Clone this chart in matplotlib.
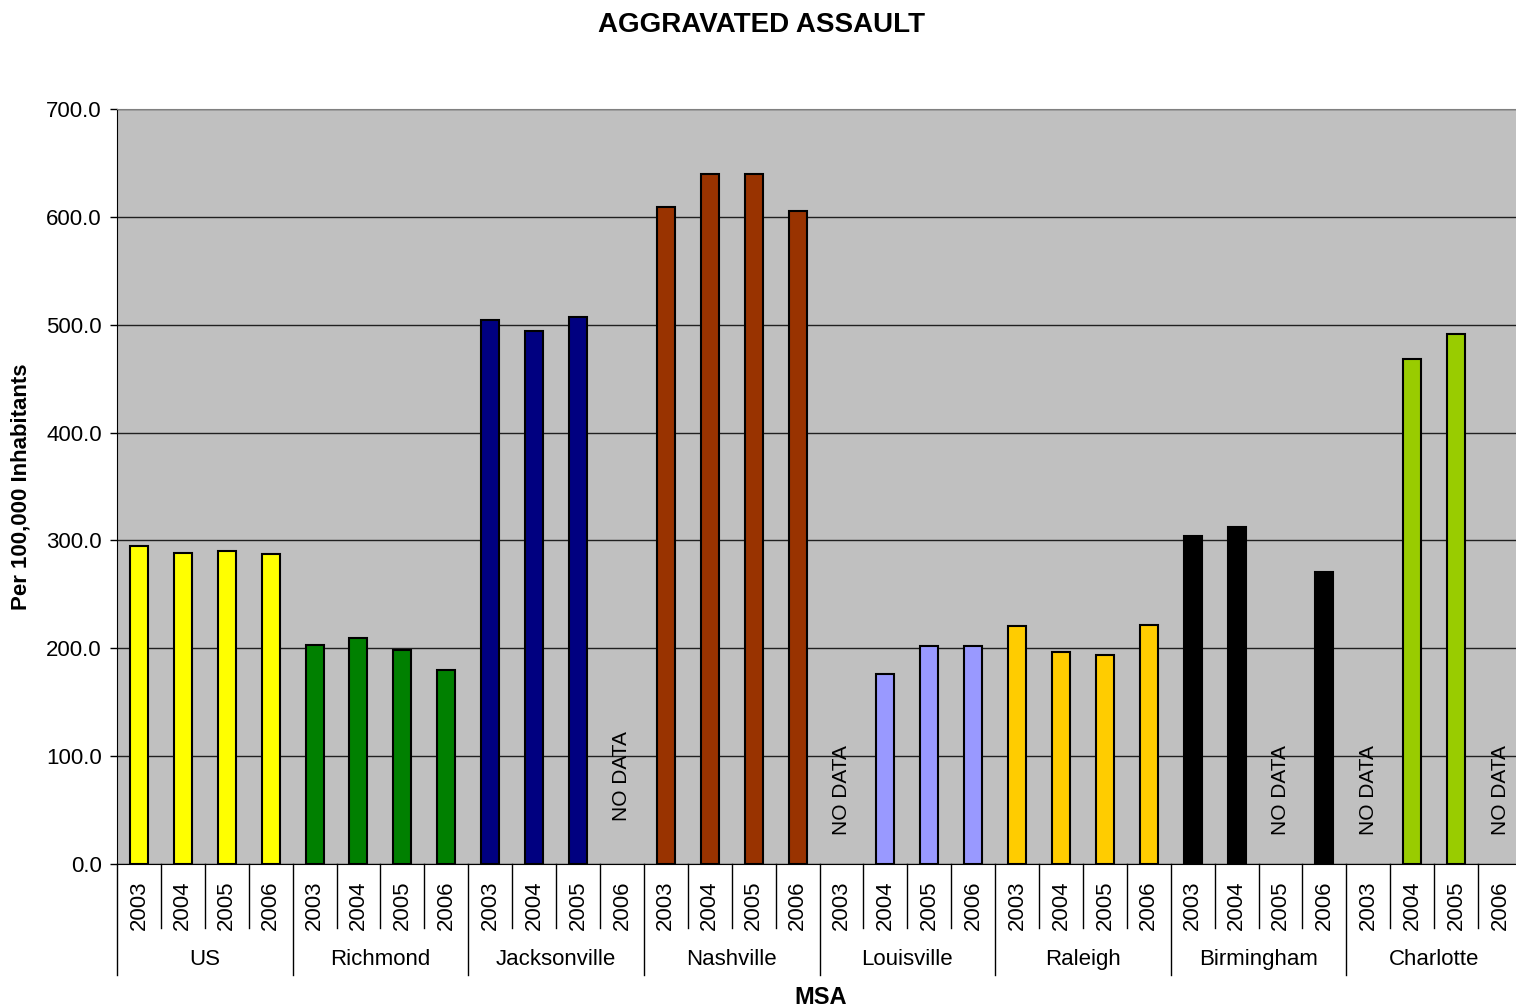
import numpy as np
import matplotlib
matplotlib.use('Agg')
import matplotlib.pyplot as plt

plt.rcParams['font.family'] = ['Liberation Sans', 'DejaVu Sans']

# --- Data ---
cities = ['US', 'Richmond', 'Jacksonville', 'Nashville', 'Louisville',
          'Raleigh', 'Birmingham', 'Charlotte']
years = ['2003', '2004', '2005', '2006']
colors = ['#FFFF00', '#008000', '#000080', '#993300', '#9999FF',
          '#FFCC00', '#000000', '#99CC00']
# None = NO DATA
us = [295, 288, 290, 287]
richmond = [203, 210, 198, 180]
jacksonville = [504, 494, 507, None]
nashville = [609, 640, 640, 605]
louisville = [None, 176, 202, 202]
raleigh = [221, 197, 194, 222]
birmingham = [304, 312, None, 271]
charlotte = [None, 468, 491, None]
values = [us, richmond, jacksonville, nashville, louisville,
          raleigh, birmingham, charlotte]

fig = plt.figure(figsize=(15.16, 10.08), dpi=100)
# plot area runs slightly past the right edge, as in the original
ax = fig.add_axes([117 / 1516, 1 - 864 / 1008, 1405 / 1516, 755 / 1008])
ax.set_facecolor('#C0C0C0')

n = len(years)
for gi, (city, vals, col) in enumerate(zip(cities, values, colors)):
    for yi, v in enumerate(vals):
        x = gi * n + yi
        if v is None:
            # Jacksonville's label sits a bit higher in the original
            ybase = 40 if city == 'Jacksonville' else 27
            ax.text(x + 0.5, ybase, 'NO DATA', rotation=90, ha='center',
                    va='bottom', fontsize=15)
        else:
            ax.bar(x + 0.5, v, width=0.41, color=col, edgecolor='black',
                   linewidth=1.5, zorder=3)

ax.set_xlim(0, len(cities) * n)
ax.set_ylim(0, 700)
ax.set_yticks(np.arange(0, 701, 100))
ax.set_yticklabels([f'{t:.1f}' for t in np.arange(0, 701, 100)], fontsize=16)
ax.yaxis.grid(True, color='#202020', linewidth=1)
ax.set_axisbelow(True)
ax.tick_params(axis='y', length=5, width=1, pad=6)
ax.set_xticks([])
ax.spines['right'].set_visible(False)
ax.spines['top'].set_color('#808080')
ax.spines['left'].set_color('black')
ax.spines['bottom'].set_color('black')

# Category axis: years and MSA names with separator lines
trans = ax.get_xaxis_transform()
for gi, city in enumerate(cities):
    for yi, yr in enumerate(years):
        x = gi * n + yi
        ax.text(x + 0.5, -0.055, yr, transform=trans, rotation=90,
                ha='center', va='center', fontsize=16)
        if yi > 0:
            ax.plot([x, x], [0, -0.085], transform=trans, color='black',
                    linewidth=1, clip_on=False)
    ax.plot([gi * n, gi * n], [0, -0.147], transform=trans, color='black',
            linewidth=1, clip_on=False)
    ax.text(gi * n + n / 2, -0.127, city, transform=trans, ha='center',
            va='center', fontsize=16)

ax.set_ylabel('Per 100,000 Inhabitants', fontsize=16, fontweight='bold')
ax.yaxis.set_label_coords(-0.061, 0.5)
fig.text(821 / 1516, 1 - 997 / 1008, 'MSA', ha='center', va='center',
         fontsize=17, fontweight='bold')
fig.text(762 / 1516, 1 - 25 / 1008, 'AGGRAVATED ASSAULT', ha='center',
         va='center', fontsize=20, fontweight='bold')

fig.savefig('out.png', dpi=100)
